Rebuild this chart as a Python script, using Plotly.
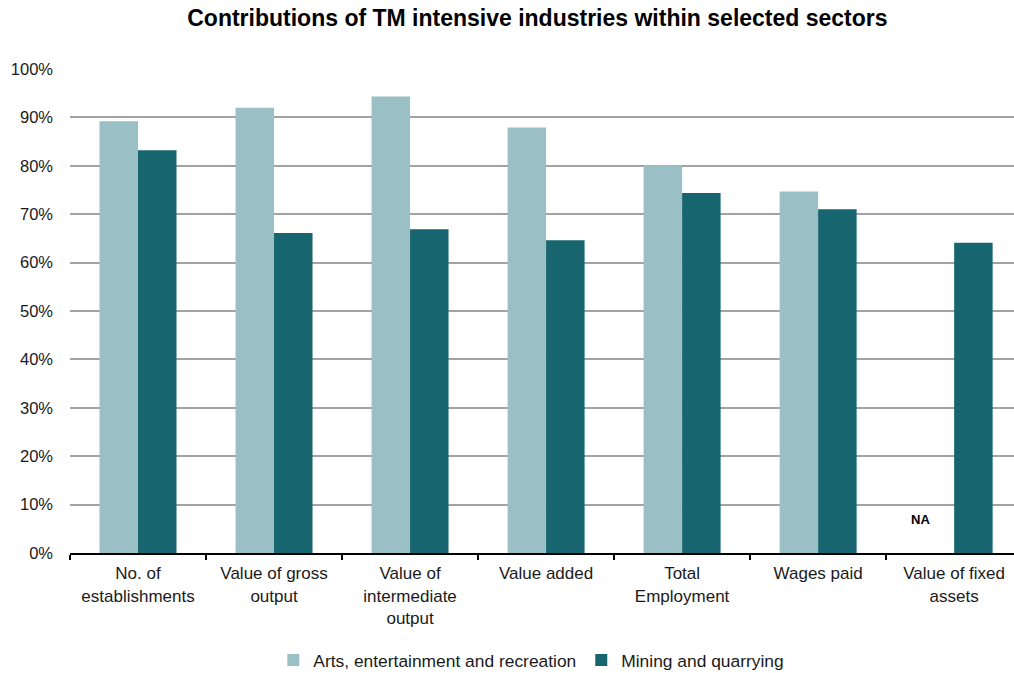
import plotly.graph_objects as go

categories = [
    "No. of<br>establishments",
    "Value of gross<br>output",
    "Value of<br>intermediate<br>output",
    "Value added",
    "Total<br>Employment",
    "Wages paid",
    "Value of fixed<br>assets",
]
arts_values = [89.2, 92.0, 94.3, 87.9, 80.1, 74.7, None]
mining_values = [83.2, 66.1, 66.9, 64.6, 74.4, 71.0, 64.1]
series_names = ["Arts, entertainment and recreation", "Mining and quarrying"]
na_label = "NA"

LIGHT = "#9ABFC4"
DARK = "#17656F"
FONT = "Liberation Sans, Arial, sans-serif"

fig = go.Figure()
fig.add_trace(go.Bar(x=categories, y=arts_values, name=series_names[0],
                     marker=dict(color=LIGHT, line=dict(width=0))))
fig.add_trace(go.Bar(x=categories, y=mining_values, name=series_names[1],
                     marker=dict(color=DARK, line=dict(width=0))))

# missing value marker for the arts series in the last category
fig.add_annotation(x=categories[-1], y=7, text="<b>" + na_label + "</b>",
                   xshift=-34, showarrow=False,
                   font=dict(family=FONT, size=13, color="#000000"))

fig.update_layout(
    width=1014, height=673,
    margin=dict(l=70, r=0, t=69, b=120, autoexpand=False),
    paper_bgcolor="white", plot_bgcolor="white",
    barmode="group", bargap=0.434, bargroupgap=0,
    font=dict(family=FONT, size=16, color="#1a1a1a"),
    title=dict(text="<b>Contributions of TM intensive industries within selected sectors</b>",
               x=0.53, xanchor="center", y=0.974, yanchor="middle",
               font=dict(family=FONT, size=23, color="#000000")),
    legend=dict(orientation="h", x=0.524, xanchor="center", xref="container",
                y=0.019, yanchor="middle", yref="container",
                font=dict(family=FONT, size=17.4, color="#1a1a1a"),
                itemwidth=30, traceorder="normal"),
    showlegend=True,
)

fig.update_xaxes(
    range=[-0.5, 6.44], showline=True, linecolor="#000000", linewidth=2,
    ticks="outside", tickson="boundaries", ticklen=5, tickwidth=2, tickcolor="#000000",
    showgrid=False, tickfont=dict(family=FONT, size=17, color="#1a1a1a"),
    ticklabelstandoff=4, fixedrange=True, automargin=False,
)
fig.update_yaxes(
    range=[0, 100], dtick=10, ticksuffix="%", showline=False, zeroline=False,
    showgrid=True, gridcolor="#A3A3A3", gridwidth=2, ticks="",
    tickfont=dict(family=FONT, size=16.5, color="#1a1a1a"), ticklabelstandoff=16,
    automargin=False,
)

fig.write_html("out.html")
